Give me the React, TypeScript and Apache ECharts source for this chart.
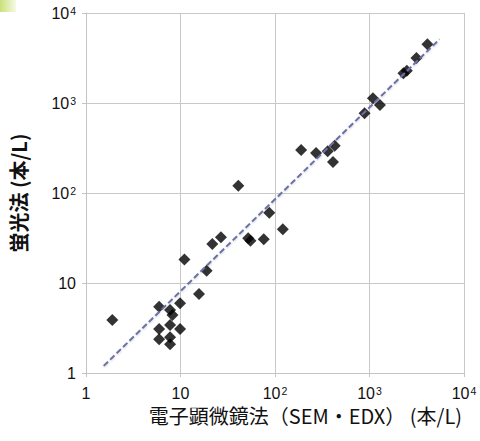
import React, { useEffect, useRef } from "react";
import * as echarts from "echarts";

// 電子顕微鏡法 (x) vs 蛍光法 (y), 本/L
const semEdx = [
  1.9, 11.0, 18.9, 15.7, 5.94, 9.9, 7.76, 8.22, 5.94, 7.76, 9.9, 5.94, 7.76, 7.76,
  21.7, 26.8, 40.9, 52, 55, 76, 87, 121,
  189, 272, 361, 428, 411, 887, 1087, 1289, 2287, 2483, 3140, 4100,
];
const fluorescence = [
  3.88, 18.3, 13.7, 7.55, 5.45, 5.95, 5.0, 4.41, 3.08, 3.41, 3.08, 2.37, 2.49, 2.08,
  27.1, 32.2, 120, 31.5, 29.5, 30.6, 60.4, 39.5,
  300, 278, 291, 336, 221, 769, 1128, 950, 2138, 2286, 3162, 4487,
];
const fitLineX = [1.54, 5500];
const fitLineY = [1.2, 5100];

const fmt = (v: number) => {
  const e = Math.round(Math.log10(v));
  if (e === 0) return "1";
  if (e === 1) return "10";
  return "10{sup|" + e + "}";
};

const labelRich = {
  sup: { fontSize: 10.5, verticalAlign: "top" as const, fontFamily: "Liberation Sans, Arial, sans-serif", color: "#111", padding: [0, 0, 0, 1] },
};

export default function App() {
  const ref = useRef<HTMLDivElement>(null);
  useEffect(() => {
    if (!ref.current) return;
    const chart = echarts.init(ref.current, undefined, { renderer: "svg" });
    const pts = semEdx.map((x, i) => [x, fluorescence[i]]);
    chart.setOption({
      animation: false,
      backgroundColor: "#ffffff",
      grid: { left: 85, right: 16, top: 13, bottom: 68 },
      xAxis: {
        type: "log",
        logBase: 10,
        min: 1,
        max: 10000,
        axisLine: { show: true, lineStyle: { color: "#c4c4c4", width: 1 } },
        axisTick: { show: true, length: 4, lineStyle: { color: "#c4c4c4" } },
        splitLine: { show: true, lineStyle: { color: "#c8c8c8", width: 1 } },
        minorTick: { show: false },
        axisLabel: {
          formatter: fmt,
          margin: 12,
          fontSize: 16,
          color: "#111",
          fontFamily: "Liberation Sans, Arial, sans-serif",
          rich: labelRich,
        },
      },
      yAxis: {
        type: "log",
        logBase: 10,
        min: 1,
        max: 10000,
        axisLine: { show: true, lineStyle: { color: "#c4c4c4", width: 1 } },
        axisTick: { show: true, length: 4, lineStyle: { color: "#c4c4c4" } },
        splitLine: { show: true, lineStyle: { color: "#c8c8c8", width: 1 } },
        axisLabel: {
          formatter: fmt,
          margin: 10,
          fontSize: 16,
          color: "#111",
          fontFamily: "Liberation Sans, Arial, sans-serif",
          rich: labelRich,
        },
        name: "蛍光法 (本/L)",
        nameLocation: "middle",
        nameGap: 58,
        nameRotate: 90,
        nameTextStyle: {
          fontSize: 20,
          fontWeight: "bold",
          color: "#111",
          fontFamily: "Noto Sans CJK JP, sans-serif",
        },
      },
      graphic: [
        {
          type: "rect",
          left: 0,
          top: 0,
          shape: { width: 16, height: 12 },
          style: {
            fill: new echarts.graphic.LinearGradient(0, 0, 1, 0, [
              { offset: 0, color: "#c9e07a" },
              { offset: 1, color: "#f6fae6" },
            ]),
          },
        },
        {
          type: "text",
          right: 18,
          top: 405,
          style: {
            text: "電子顕微鏡法（SEM・EDX） (本/L)",
            fontSize: 20,
            fill: "#111",
            fontFamily: "Noto Sans CJK JP, sans-serif",
          },
        },
      ],
      series: [
        {
          type: "line",
          data: fitLineX.map((x, i) => [x, fitLineY[i]]),
          symbol: "none",
          lineStyle: { color: "#6a70a8", width: 2, type: [6, 3], shadowColor: "rgba(0,0,0,0.2)", shadowBlur: 2, shadowOffsetY: 1 },
          z: 3,
        },
        {
          type: "scatter",
          data: pts,
          symbol: "diamond",
          symbolSize: 12,
          itemStyle: { color: "#000" },
          z: 2,
        },
      ],
    });
    return () => chart.dispose();
  }, []);
  return <div ref={ref} style={{ position: "fixed", left: 0, top: 0, width: 480, height: 441 }} />;
}
